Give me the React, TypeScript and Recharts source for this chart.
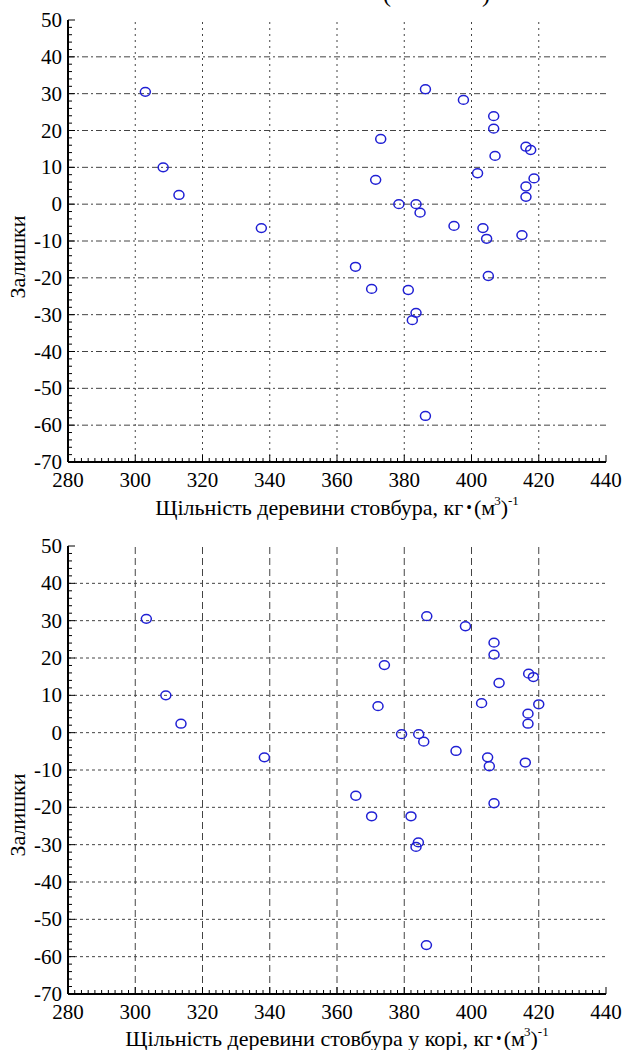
import React from "react";
import { ScatterChart, Scatter, XAxis, YAxis, ReferenceLine } from "recharts";

const xTicks = [280, 300, 320, 340, 360, 380, 400, 420, 440];
const yTicks = [50, 40, 30, 20, 10, 0, -10, -20, -30, -40, -50, -60, -70];

// stem wood density vs residuals
const stemX = [303, 308.3, 313, 337.5, 365.5, 370.3, 381.2, 383.5, 382.4, 405, 404.5, 415, 403.4, 386.3, 373, 371.5, 378.4, 383.5, 384.7, 394.8, 397.6, 406.6, 406.6, 416.2, 417.6, 407, 401.8, 418.6, 416.2, 416.2, 386.3];
const stemY = [30.5, 10, 2.5, -6.5, -17, -23, -23.3, -29.5, -31.5, -19.5, -9.4, -8.4, -6.5, 31.2, 17.7, 6.6, 0, 0, -2.3, -5.9, 28.3, 23.9, 20.5, 15.6, 14.7, 13.1, 8.4, 7, 4.8, 2, -57.5];

// stem wood density with bark vs residuals
const barkX = [303.3, 309.1, 313.6, 338.4, 386.7, 398.2, 406.7, 406.7, 374.1, 417, 418.4, 408.2, 372.2, 403, 420, 416.8, 416.8, 379.2, 384.3, 385.8, 395.4, 404.8, 405.3, 416, 365.6, 406.7, 370.3, 382, 384.2, 383.5, 386.6];
const barkY = [30.5, 10, 2.4, -6.6, 31.2, 28.5, 24.1, 20.9, 18.1, 15.8, 14.9, 13.3, 7.1, 7.9, 7.6, 5.1, 2.4, -0.4, -0.4, -2.4, -4.9, -6.6, -9, -8, -16.9, -18.9, -22.4, -22.4, -29.4, -30.6, -56.9];

const xMinor = Array.from({ length: 81 }, (_, i) => 280 + 2 * i);
const yMinor = Array.from({ length: 61 }, (_, i) => 50 - 2 * i);

const FONT = "'Liberation Serif', 'DejaVu Serif', 'Times New Roman', serif";
const TXT = { fontFamily: FONT, fill: "#000" };
const AXIS = { stroke: "#000", strokeWidth: 2 };

const Dot = (p: any) => (
  <ellipse cx={p.cx} cy={p.cy} rx={5} ry={4.4} fill="none" stroke="#2020d4" strokeWidth={1.5} />
);

const tickLen = (major: boolean) => (major ? 7 : 4);

const BottomTick = ({ x, y, payload }: any) => {
  const v = payload.value;
  const major = xTicks.includes(v);
  return (
    <g>
      <line x1={x} x2={x} y1={y} y2={y - tickLen(major)} stroke="#000" />
      {major && (
        <text x={x} y={y + 25} textAnchor="middle" fontSize={21} style={TXT}>
          {v}
        </text>
      )}
    </g>
  );
};

const TopTick = ({ x, y, payload }: any) => {
  const major = xTicks.includes(payload.value);
  return <line x1={x} x2={x} y1={y} y2={y + tickLen(major)} stroke="#000" />;
};

const LeftTick = ({ x, y, payload }: any) => {
  const v = payload.value;
  const major = yTicks.includes(v);
  return (
    <g>
      <line x1={x} x2={x + tickLen(major)} y1={y} y2={y} stroke="#000" />
      {major && (
        <text x={x - 6} y={y + 7} textAnchor="end" fontSize={21} style={TXT}>
          {v}
        </text>
      )}
    </g>
  );
};

const RightTick = ({ x, y, payload }: any) => {
  const major = yTicks.includes(payload.value);
  return <line x1={x} x2={x - tickLen(major)} y1={y} y2={y} stroke="#000" />;
};

type PanelProps = {
  xs: number[];
  ys: number[];
  title: string;
  titleDy: number;
  yTitleY: number;
  xAxisHeight: number;
  marginTop: number;
  hDash: string;
  vDash: string;
};

const Panel = ({ xs, ys, title, titleDy, yTitleY, xAxisHeight, marginTop, hDash, vDash }: PanelProps) => {
  const data = xs.map((x, i) => ({ x, y: ys[i] }));
  return (
    <ScatterChart width={622} height={525} margin={{ top: marginTop, right: 16, bottom: 0, left: 8 }}>
      <XAxis
        dataKey="x"
        type="number"
        domain={[280, 440]}
        ticks={xMinor}
        interval={0}
        height={xAxisHeight}
        axisLine={AXIS}
        tickLine={false}
        tickSize={0}
        tickMargin={0}
        tick={BottomTick}
        label={{
          position: "insideTop",
          content: ({ viewBox }: any) => (
            <text
              x={viewBox.x + viewBox.width / 2}
              y={viewBox.y + titleDy}
              textAnchor="middle"
              fontSize={22}
              style={TXT}
            >
              {title}, кг
              <tspan fontSize={16} dx={3} dy={-2}>•</tspan>
              <tspan fontSize={22} dx={2} dy={2}>(м</tspan>
              <tspan fontSize={13} dx={-1} dy={-10}>3</tspan>
              <tspan fontSize={22} dy={10}>)</tspan>
              <tspan fontSize={13} dy={-10}>-1</tspan>
            </text>
          ),
        }}
      />
      <XAxis
        xAxisId="top"
        orientation="top"
        type="number"
        domain={[280, 440]}
        ticks={xMinor}
        interval={0}
        height={0}
        axisLine={AXIS}
        tickLine={false}
        tickSize={0}
        tickMargin={0}
        tick={TopTick}
      />
      <YAxis
        dataKey="y"
        type="number"
        domain={[-70, 50]}
        ticks={yMinor}
        interval={0}
        width={60}
        axisLine={AXIS}
        tickLine={false}
        tickSize={0}
        tickMargin={0}
        tick={LeftTick}
        label={{
          position: "insideLeft",
          content: () => (
            <text
              x={17}
              y={yTitleY}
              transform={`rotate(-90 17 ${yTitleY})`}
              textAnchor="middle"
              dominantBaseline="central"
              fontSize={22}
              style={TXT}
            >
              Залишки
            </text>
          ),
        }}
      />
      <YAxis
        yAxisId="right"
        orientation="right"
        type="number"
        domain={[-70, 50]}
        ticks={yMinor}
        interval={0}
        width={0}
        axisLine={AXIS}
        tickLine={false}
        tickSize={0}
        tickMargin={0}
        tick={RightTick}
      />
      {yTicks.slice(1, -1).map((v) => (
        <ReferenceLine key={"h" + v} y={v} stroke="#444" strokeWidth={1} strokeDasharray={hDash} />
      ))}
      {xTicks.slice(1, -1).map((v) => (
        <ReferenceLine key={"v" + v} x={v} stroke="#444" strokeWidth={1} strokeDasharray={vDash} />
      ))}
      <Scatter data={data} shape={Dot} isAnimationActive={false} />
    </ScatterChart>
  );
};

export default function App() {
  return (
    <div style={{ position: "absolute", left: 0, top: 0, width: 622, height: 1050, background: "#fff", overflow: "hidden", fontFamily: FONT }}>
      <span style={{ position: "absolute", left: 383, top: -18, fontSize: 24, lineHeight: 1 }}>(</span>
      <span style={{ position: "absolute", left: 482, top: -18, fontSize: 24, lineHeight: 1 }}>)</span>
      <div style={{ position: "absolute", left: 0, top: 0 }}>
        <Panel
          xs={stemX}
          ys={stemY}
          title="Щільність деревини стовбура"
          titleDy={53}
          yTitleY={257}
          xAxisHeight={63}
          marginTop={20}
          hDash="6 3 2 3"
          vDash="2 4"
        />
      </div>
      <div style={{ position: "absolute", left: 0, top: 525 }}>
        <Panel
          xs={barkX}
          ys={barkY}
          title="Щільність деревини стовбура у корі"
          titleDy={52}
          yTitleY={290}
          xAxisHeight={56}
          marginTop={21}
          hDash="3 3"
          vDash="7 4"
        />
      </div>
    </div>
  );
}
